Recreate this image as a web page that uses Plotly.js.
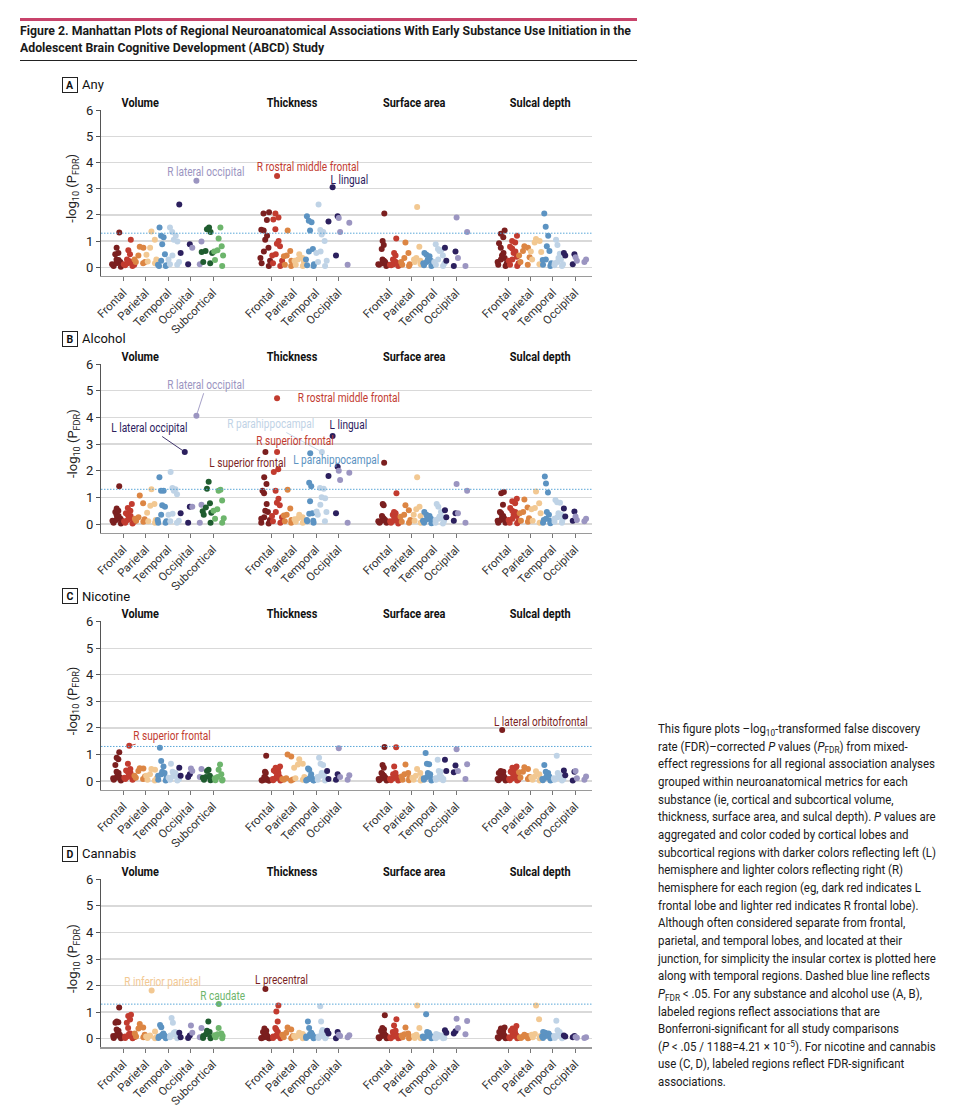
<!DOCTYPE html>
<html>
<head>
<meta charset="utf-8">
<script src="https://cdn.plot.ly/plotly-3.0.1.min.js"></script>
<style>
html,body{margin:0;padding:0;background:#fff;}
#wrap{position:relative;width:957px;height:1116px;overflow:hidden;background:#fff;}
#chart{position:absolute;left:0;top:0;width:957px;height:1116px;}
#topline{position:absolute;left:20px;top:18px;width:617px;height:3px;background:#c8436b;}
#header{position:absolute;left:20px;top:22px;font-family:Roboto,"DejaVu Sans Condensed",sans-serif;font-weight:bold;color:#1a1a1a;line-height:17px;white-space:nowrap;font-size:13.5px;transform-origin:0 0;}
#rule{position:absolute;left:20px;top:60px;width:617px;height:1px;background:#222;}
#caption{position:absolute;left:658px;top:720px;font-family:Roboto,"DejaVu Sans Condensed",sans-serif;color:#1a1a1a;line-height:17.65px;white-space:nowrap;font-size:12.4px;transform-origin:0 0;}
#caption sub,#caption sup{font-size:0.72em;line-height:0;position:relative;vertical-align:baseline;}
#caption sub{top:0.3em;}
#caption sup{top:-0.45em;}
</style>
</head>
<body>
<div id="wrap">
  <div id="chart"></div>
  <div id="topline"></div>
  <div id="header"><span id="h1">Figure 2. Manhattan Plots of Regional Neuroanatomical Associations With Early Substance Use Initiation in the</span><br><span>Adolescent Brain Cognitive Development (ABCD) Study</span></div>
  <div id="rule"></div>
  <div id="caption">This figure plots –log<sub>10</sub>-transformed false discovery<br>rate (FDR)–corrected <i>P</i> values (<i>P</i><sub>FDR</sub>) from mixed-<br><span id="c3">effect regressions for all regional association analyses</span><br>grouped within neuroanatomical metrics for each<br>substance (ie, cortical and subcortical volume,<br>thickness, surface area, and sulcal depth). <i>P</i> values are<br>aggregated and color coded by cortical lobes and<br>subcortical regions with darker colors reflecting left (L)<br>hemisphere and lighter colors reflecting right (R)<br>hemisphere for each region (eg, dark red indicates L<br>frontal lobe and lighter red indicates R frontal lobe).<br>Although often considered separate from frontal,<br>parietal, and temporal lobes, and located at their<br>junction, for simplicity the insular cortex is plotted here<br>along with temporal regions. Dashed blue line reflects<br><i>P</i><sub>FDR</sub> &lt; .05. For any substance and alcohol use (A, B),<br>labeled regions reflect associations that are<br>Bonferroni-significant for all study comparisons<br>(<i>P</i> &lt; .05 / 1188=4.21 × 10<sup>−5</sup>). For nicotine and cannabis<br>use (C, D), labeled regions reflect FDR-significant<br>associations.</div>
</div>
<script>
// ---------------- DATA ----------------
const PANELS = ['Any', 'Alcohol', 'Nicotine', 'Cannabis'];
const PANEL_TAGS = ['A', 'B', 'C', 'D'];
const METRICS = ['Volume', 'Thickness', 'Surface area', 'Sulcal depth'];
const LOBES = ['Frontal', 'Parietal', 'Temporal', 'Occipital', 'Subcortical'];

// A - Any  (each inner array: one lobe; L = left hemisphere, R = right hemisphere)
const anyVolumeL = [
  [1.33, 0.75, 0.55, 0.5, 0.3, 0.28, 0.25, 0.2, 0.15, 0.12, 0.1, 0.05, 0.02],
  [0.78, 0.75, 0.45, 0.3, 0.2, 0.2, 0.15],
  [1.52, 1.2, 1.15, 0.88, 0.5, 0.25, 0.1, 0.08, 0.05, 0.05],
  [2.4, 0.88, 0.55, 0.12],
  [1.52, 1.45, 1.35, 0.62, 0.58, 0.55, 0.2, 0.15]
];
const anyVolumeR = [
  [1.05, 0.65, 0.5, 0.3, 0.25, 0.22, 0.2, 0.18, 0.15, 0.12, 0.1, 0.08, 0.05],
  [1.37, 1.05, 0.75, 0.48, 0.3, 0.22, 0.15],
  [1.52, 1.35, 1.2, 1.05, 0.98, 0.45, 0.3, 0.2, 0.12, 0.1],
  [0.98, 0.75, 0.12],
  [1.52, 1.1, 0.8, 0.65, 0.6, 0.45, 0.28, 0.05]
];
const anyThicknessL = [
  [2.1, 2.05, 1.8, 1.43, 1.4, 1.2, 1.05, 0.75, 0.6, 0.35, 0.25, 0.15, 0.05],
  [1.4, 0.62, 0.45, 0.42, 0.25, 0.1, 0.05],
  [1.95, 1.78, 1.72, 1.4, 0.7, 0.6, 0.3, 0.12, 0.08, 0.05],
  [1.95, 1.75, 0.45]
];
const anyThicknessR = [
  [2.05, 1.9, 1.82, 1.45, 1.0, 0.9, 0.8, 0.5, 0.45, 0.25, 0.15, 0.05],
  [0.5, 0.35, 0.3, 0.25, 0.2, 0.1, 0.05],
  [2.4, 1.42, 1.35, 1.25, 1.0, 0.6, 0.55, 0.25, 0.2, 0.05],
  [1.88, 1.7, 1.35, 0.1]
];
const anySurfaceL = [
  [2.05, 1.0, 0.85, 0.7, 0.3, 0.25, 0.2, 0.2, 0.15, 0.12, 0.1, 0.1, 0.05],
  [0.95, 0.55, 0.35, 0.2, 0.12, 0.1, 0.05],
  [0.55, 0.48, 0.42, 0.3, 0.25, 0.2, 0.15, 0.1, 0.08, 0.05],
  [0.75, 0.6, 0.25, 0.05]
];
const anySurfaceR = [
  [1.1, 0.55, 0.45, 0.3, 0.25, 0.2, 0.2, 0.15, 0.12, 0.1, 0.1, 0.08, 0.05],
  [2.3, 0.78, 0.35, 0.3, 0.25, 0.2, 0.12],
  [0.88, 0.7, 0.65, 0.62, 0.45, 0.3, 0.2, 0.15, 0.1, 0.05],
  [1.9, 1.35, 0.35, 0.05]
];
const anySulcalL = [
  [1.4, 1.28, 1.15, 0.92, 0.75, 0.55, 0.45, 0.35, 0.3, 0.2, 0.15, 0.1, 0.05],
  [0.8, 0.75, 0.62, 0.45, 0.38, 0.2, 0.1],
  [2.05, 1.55, 1.2, 0.8, 0.62, 0.3, 0.28, 0.15, 0.1, 0.05],
  [0.55, 0.5, 0.45, 0.12]
];
const anySulcalR = [
  [1.2, 1.0, 0.95, 0.78, 0.72, 0.6, 0.55, 0.4, 0.3, 0.25, 0.15, 0.1, 0.05],
  [1.08, 1.0, 0.95, 0.6, 0.58, 0.3, 0.12],
  [1.05, 0.85, 0.52, 0.35, 0.3, 0.2, 0.15, 0.12, 0.08, 0.05],
  [0.38, 0.3, 0.25, 0.2]
];

// B - Alcohol
const alcVolumeL = [
  [1.42, 0.58, 0.5, 0.45, 0.35, 0.3, 0.25, 0.2, 0.15, 0.12, 0.1, 0.05, 0.02],
  [1.07, 0.78, 0.25, 0.2, 0.18, 0.12, 0.08],
  [1.75, 1.25, 1.25, 0.7, 0.65, 0.35, 0.15, 0.1, 0.05, 0.05],
  [0.65, 0.4, 0.05],
  [1.58, 1.32, 0.78, 0.62, 0.48, 0.42, 0.35, 0.05]
];
const alcVolumeR = [
  [0.75, 0.6, 0.5, 0.4, 0.35, 0.3, 0.25, 0.2, 0.15, 0.1, 0.08, 0.05, 0.02],
  [1.3, 0.75, 0.68, 0.42, 0.15, 0.1, 0.05],
  [1.95, 1.35, 1.3, 1.25, 1.12, 0.38, 0.35, 0.12, 0.1, 0.05],
  [0.72, 0.65, 0.05],
  [1.28, 1.25, 0.88, 0.55, 0.5, 0.22, 0.2, 0.05]
];
const alcThicknessL = [
  [1.75, 1.5, 1.25, 1.15, 0.75, 0.5, 0.45, 0.25, 0.2, 0.15, 0.05, 0.02],
  [1.28, 0.58, 0.35, 0.32, 0.15, 0.1, 0.05],
  [1.55, 1.42, 0.85, 0.4, 0.38, 0.15, 0.12, 0.1, 0.05],
  [2.15, 1.8, 0.4]
];
const alcThicknessR = [
  [2.05, 1.95, 1.25, 0.95, 0.8, 0.7, 0.45, 0.3, 0.25, 0.1, 0.05],
  [0.35, 0.25, 0.22, 0.18, 0.12, 0.08, 0.05],
  [1.35, 1.32, 1.0, 0.97, 0.72, 0.47, 0.45, 0.35, 0.1],
  [2.0, 1.92, 1.65, 0.05]
];
const alcSurfaceL = [
  [2.3, 0.75, 0.7, 0.3, 0.25, 0.2, 0.2, 0.15, 0.12, 0.1, 0.08, 0.05, 0.05],
  [0.7, 0.52, 0.35, 0.27, 0.15, 0.08, 0.05],
  [0.45, 0.35, 0.3, 0.25, 0.2, 0.17, 0.12, 0.08, 0.05, 0.03],
  [0.52, 0.4, 0.25, 0.12]
];
const alcSurfaceR = [
  [1.15, 0.45, 0.4, 0.35, 0.3, 0.25, 0.2, 0.15, 0.12, 0.1, 0.08, 0.05, 0.02],
  [1.75, 0.65, 0.55, 0.35, 0.3, 0.12, 0.05],
  [0.75, 0.65, 0.45, 0.28, 0.25, 0.2, 0.15, 0.1, 0.05, 0.02],
  [1.5, 1.25, 0.4, 0.05]
];
const alcSulcalL = [
  [1.2, 1.15, 0.72, 0.45, 0.4, 0.3, 0.25, 0.2, 0.15, 0.12, 0.1, 0.05, 0.05],
  [0.92, 0.62, 0.45, 0.4, 0.22, 0.12, 0.08],
  [1.78, 1.52, 1.18, 0.45, 0.35, 0.2, 0.15, 0.12, 0.05, 0.03],
  [0.58, 0.47, 0.28, 0.12]
];
const alcSulcalR = [
  [0.95, 0.85, 0.78, 0.6, 0.5, 0.45, 0.35, 0.3, 0.2, 0.15, 0.1, 0.05, 0.03],
  [1.22, 0.78, 0.6, 0.55, 0.4, 0.12, 0.05],
  [0.9, 0.82, 0.8, 0.4, 0.35, 0.25, 0.2, 0.15, 0.08, 0.05],
  [0.28, 0.2, 0.15, 0.1]
];

// C - Nicotine
const nicVolumeL = [
  [1.08, 0.88, 0.82, 0.6, 0.35, 0.3, 0.2, 0.15, 0.12, 0.1, 0.08, 0.05, 0.02],
  [0.48, 0.47, 0.38, 0.2, 0.17, 0.12, 0.08],
  [1.25, 0.75, 0.55, 0.35, 0.3, 0.25, 0.2, 0.12, 0.05, 0.02],
  [0.5, 0.25, 0.2, 0.15],
  [0.42, 0.38, 0.2, 0.15, 0.12, 0.1, 0.05, 0.03]
];
const nicVolumeR = [
  [0.65, 0.45, 0.4, 0.35, 0.3, 0.25, 0.2, 0.15, 0.12, 0.1, 0.08, 0.05],
  [0.45, 0.42, 0.25, 0.2, 0.1, 0.05, 0.02],
  [0.65, 0.35, 0.3, 0.28, 0.22, 0.17, 0.12, 0.08, 0.05, 0.02],
  [0.47, 0.45, 0.38, 0.15],
  [0.62, 0.42, 0.25, 0.15, 0.1, 0.05, 0.03, 0.02]
];
const nicThicknessL = [
  [0.95, 0.35, 0.3, 0.15, 0.12, 0.1, 0.08, 0.05, 0.05, 0.03, 0.02, 0.02, 0.02],
  [1.0, 0.92, 0.1, 0.08, 0.06, 0.05, 0.02],
  [0.47, 0.42, 0.25, 0.12, 0.1, 0.08, 0.05, 0.03, 0.02, 0.02],
  [0.38, 0.25, 0.08, 0.05]
];
const nicThicknessR = [
  [0.55, 0.5, 0.45, 0.4, 0.35, 0.3, 0.2, 0.15, 0.1, 0.08, 0.05, 0.03, 0.02],
  [0.82, 0.65, 0.62, 0.5, 0.15, 0.1, 0.05],
  [0.88, 0.65, 0.6, 0.3, 0.28, 0.2, 0.15, 0.1, 0.05, 0.02],
  [1.23, 0.22, 0.15, 0.05]
];
const nicSurfaceL = [
  [1.28, 0.6, 0.5, 0.3, 0.25, 0.2, 0.15, 0.12, 0.1, 0.08, 0.05, 0.03, 0.02],
  [0.62, 0.3, 0.25, 0.17, 0.1, 0.05, 0.03],
  [1.05, 0.65, 0.63, 0.3, 0.25, 0.15, 0.1, 0.08, 0.05, 0.02],
  [0.8, 0.58, 0.38, 0.33]
];
const nicSurfaceR = [
  [1.27, 0.55, 0.3, 0.25, 0.22, 0.2, 0.15, 0.12, 0.1, 0.08, 0.05, 0.03, 0.02],
  [0.45, 0.3, 0.2, 0.12, 0.1, 0.05, 0.02],
  [0.8, 0.38, 0.35, 0.2, 0.15, 0.12, 0.1, 0.08, 0.05, 0.03],
  [1.2, 0.63, 0.38, 0.08]
];
const nicSulcalL = [
  [0.38, 0.35, 0.3, 0.25, 0.2, 0.17, 0.12, 0.1, 0.08, 0.05, 0.03, 0.02],
  [0.52, 0.45, 0.35, 0.33, 0.15, 0.13, 0.08],
  [0.6, 0.35, 0.3, 0.2, 0.17, 0.12, 0.08, 0.05, 0.03, 0.02],
  [0.4, 0.35, 0.22, 0.02]
];
const nicSulcalR = [
  [0.55, 0.5, 0.45, 0.35, 0.3, 0.25, 0.2, 0.15, 0.1, 0.08, 0.05, 0.03, 0.02],
  [0.37, 0.25, 0.17, 0.12, 0.1, 0.05, 0.02],
  [0.95, 0.3, 0.22, 0.18, 0.15, 0.12, 0.1, 0.08, 0.05, 0.02],
  [0.38, 0.17, 0.1, 0.05]
];

// D - Cannabis
const canVolumeL = [
  [1.17, 0.65, 0.62, 0.6, 0.35, 0.3, 0.2, 0.15, 0.12, 0.1, 0.05, 0.03, 0.02],
  [0.55, 0.42, 0.38, 0.2, 0.15, 0.08, 0.05],
  [0.52, 0.43, 0.2, 0.15, 0.12, 0.1, 0.08, 0.05, 0.03, 0.02],
  [0.22, 0.12, 0.05, 0.03],
  [0.65, 0.3, 0.25, 0.17, 0.1, 0.05, 0.03, 0.02]
];
const canVolumeR = [
  [0.9, 0.85, 0.72, 0.6, 0.4, 0.2, 0.18, 0.15, 0.1, 0.08, 0.05, 0.03, 0.02],
  [0.27, 0.12, 0.08, 0.05, 0.03, 0.02],
  [0.78, 0.6, 0.25, 0.22, 0.2, 0.15, 0.12, 0.08, 0.05, 0.02],
  [0.5, 0.4, 0.22, 0.05],
  [0.4, 0.2, 0.17, 0.13, 0.1, 0.05, 0.02]
];
const canThicknessL = [
  [0.38, 0.3, 0.25, 0.2, 0.15, 0.1, 0.08, 0.05, 0.03, 0.02, 0.02, 0.02],
  [0.42, 0.35, 0.22, 0.15, 0.1, 0.05, 0.02],
  [0.65, 0.4, 0.22, 0.18, 0.15, 0.1, 0.08, 0.05, 0.03, 0.02],
  [0.3, 0.25, 0.2, 0.02]
];
const canThicknessR = [
  [1.25, 1.02, 0.65, 0.4, 0.35, 0.25, 0.15, 0.12, 0.1, 0.08, 0.05, 0.03, 0.02],
  [0.22, 0.18, 0.12, 0.1, 0.08, 0.05, 0.02],
  [1.22, 0.65, 0.33, 0.25, 0.15, 0.12, 0.08, 0.05, 0.03, 0.02],
  [0.15, 0.13, 0.1, 0.05]
];
const canSurfaceL = [
  [0.88, 0.4, 0.35, 0.3, 0.25, 0.2, 0.15, 0.12, 0.1, 0.05, 0.03, 0.02, 0.02],
  [0.42, 0.2, 0.17, 0.12, 0.08, 0.05, 0.02],
  [0.92, 0.25, 0.22, 0.18, 0.15, 0.1, 0.08, 0.05, 0.03, 0.02],
  [0.32, 0.28, 0.22, 0.2]
];
const canSurfaceR = [
  [0.73, 0.5, 0.3, 0.25, 0.2, 0.15, 0.12, 0.1, 0.08, 0.05, 0.03, 0.02, 0.02],
  [1.25, 0.4, 0.15, 0.1, 0.05, 0.03, 0.02],
  [0.18, 0.15, 0.12, 0.1, 0.08, 0.07, 0.05, 0.03, 0.02, 0.02],
  [0.75, 0.67, 0.4, 0.17]
];
const canSulcalL = [
  [0.42, 0.38, 0.3, 0.25, 0.22, 0.18, 0.15, 0.1, 0.08, 0.05, 0.03, 0.02, 0.02],
  [0.15, 0.1, 0.08, 0.05, 0.04, 0.03, 0.02],
  [0.25, 0.22, 0.2, 0.15, 0.12, 0.1, 0.08, 0.05, 0.03, 0.02],
  [0.12, 0.1, 0.08, 0.05]
];
const canSulcalR = [
  [0.48, 0.38, 0.35, 0.3, 0.25, 0.22, 0.15, 0.12, 0.1, 0.05, 0.03, 0.02, 0.02],
  [1.25, 0.73, 0.18, 0.15, 0.1, 0.05, 0.02],
  [0.68, 0.32, 0.25, 0.2, 0.15, 0.12, 0.1, 0.05, 0.03, 0.02],
  [0.06, 0.05, 0.04, 0.03]
];

// Labeled (significant) regions
const hlLabels = ['R lateral occipital', 'R rostral middle frontal', 'L lingual',
  'R lateral occipital', 'L lateral occipital', 'R rostral middle frontal', 'R parahippocampal', 'L lingual',
  'R superior frontal', 'L superior frontal', 'L parahippocampal',
  'R superior frontal', 'L lateral orbitofrontal',
  'R inferior parietal', 'R caudate', 'L precentral'];
const hlValues = [3.3, 3.48, 3.05, 4.06, 2.7, 4.72, 2.7, 3.3, 2.7, 2.7, 2.65, 1.33, 1.92, 1.81, 1.31, 1.87];
const hlPanel  = [0, 0, 0, 1, 1, 1, 1, 1, 1, 1, 1, 2, 2, 3, 3, 3];
const hlMetric = [0, 1, 1, 0, 0, 1, 1, 1, 1, 1, 1, 0, 3, 0, 0, 1];
const hlLobe   = [3, 0, 3, 3, 3, 0, 2, 3, 0, 0, 2, 0, 0, 1, 4, 0];
const hlHemi   = ['R', 'R', 'L', 'R', 'L', 'R', 'R', 'L', 'R', 'L', 'L', 'R', 'L', 'R', 'R', 'L'];

const FDR_THRESHOLD = 1.301; // -log10(0.05)

// ---------------- STYLE / LAYOUT ----------------
const COLORS = {
  Frontal:     ['#7b1f1f', '#c23b2f'],
  Parietal:    ['#dc8543', '#f2c892'],
  Temporal:    ['#5c93c2', '#bfd3e6'],
  Occipital:   ['#2c205e', '#9b95c1'],
  Subcortical: ['#1f5c2f', '#6db56c']
};
const FONT = 'Roboto, "DejaVu Sans Condensed", sans-serif';
const W = 957, H = 1116;
const PX_UNIT = 22.4;           // px per category step
const X_LEFT = 101, X_RIGHT = 592;
const GROUP_START = [1, 7.6, 12.86, 18.17];
const TITLE_X = [140, 292, 414, 540];
const HEMI_OFF = 0.26, BOX_W = 0.58;
const Y6 = [110, 364, 621.7, 879.3];
const Y0 = [267.3, 524, 781, 1038.7];
const CONDENSE = 0.84;          // horizontal condensing of titles and region labels

// label placement: dx, dy (px, from point), leader line, anchor
const labelPlace = [
  [10, -9, false, 'center'], [31, -9, false, 'center'], [17, -7, false, 'center'],
  [10, -31, true, 'center'], [-35, -24, true, 'center'], [9, 0, false, 'left'], [-51, -28, true, 'center'], [16, -11, false, 'center'],
  [18, -11, false, 'center'], [-18, 11, false, 'center'], [26, 7, false, 'center'],
  [43, -10, true, 'center'], [39, -8, false, 'center'],
  [11, -9, false, 'center'], [4, -8, false, 'center'], [16, -9, false, 'center']
];

const panelSets = [
  [[anyVolumeL, anyVolumeR], [anyThicknessL, anyThicknessR], [anySurfaceL, anySurfaceR], [anySulcalL, anySulcalR]],
  [[alcVolumeL, alcVolumeR], [alcThicknessL, alcThicknessR], [alcSurfaceL, alcSurfaceR], [alcSulcalL, alcSulcalR]],
  [[nicVolumeL, nicVolumeR], [nicThicknessL, nicThicknessR], [nicSurfaceL, nicSurfaceR], [nicSulcalL, nicSulcalR]],
  [[canVolumeL, canVolumeR], [canThicknessL, canThicknessR], [canSurfaceL, canSurfaceR], [canSulcalL, canSulcalR]]
];

const AXS = ['', '2', '3', '4'];
const traces = [];
const condensedIdx = [];
const layout = {
  width: W, height: H,
  margin: {l: 0, r: 0, t: 0, b: 0},
  paper_bgcolor: 'rgba(0,0,0,0)', plot_bgcolor: 'rgba(0,0,0,0)',
  showlegend: false,
  boxmode: 'overlay', boxgap: 0, boxgroupgap: 0,
  font: {family: FONT, color: '#222'},
  annotations: [], shapes: []
};

const px2x = px => px / W;
const px2y = py => 1 - py / H;

panelSets.forEach((metrics, p) => {
  const ax = AXS[p];
  const unit = (Y0[p] - Y6[p]) / 6;
  const topPx = Y6[p] - 0.5, botPx = Y0[p] + 8.5;
  const yr = [-(botPx - Y0[p]) / unit, 6 + (Y6[p] - topPx) / unit];
  const tickvals = [], ticktext = [];
  metrics.forEach((pair, m) => {
    const nLobes = pair[0].length;
    for (let k = 0; k < nLobes; k++) {
      tickvals.push(GROUP_START[m] + k);
      ticktext.push(LOBES[k]);
      for (let h = 0; h < 2; h++) {
        traces.push({
          type: 'box', orientation: 'v',
          x0: GROUP_START[m] + k + (h ? HEMI_OFF : -HEMI_OFF),
          y: pair[h][k],
          xaxis: 'x' + ax, yaxis: 'y' + ax,
          width: BOX_W,
          boxpoints: 'all', jitter: 1, pointpos: 0,
          marker: {color: COLORS[LOBES[k]][h], size: 6, opacity: 1, line: {width: 0}},
          line: {width: 0, color: 'rgba(0,0,0,0)'},
          fillcolor: 'rgba(0,0,0,0)',
          hoveron: 'points', showlegend: false
        });
      }
    }
  });
  layout['xaxis' + ax] = {
    domain: [px2x(X_LEFT), px2x(X_RIGHT)],
    anchor: 'y' + ax,
    range: [0, (X_RIGHT - X_LEFT) / PX_UNIT],
    tickmode: 'array', tickvals: tickvals, ticktext: ticktext,
    tickangle: -45, ticks: 'outside', ticklen: 4, tickcolor: '#777', tickwidth: 1,
    tickfont: {family: FONT, size: 11.5, color: '#333'},
    showline: true, linecolor: '#9a9a9a', linewidth: 1.6,
    showgrid: false, zeroline: false, fixedrange: true
  };
  layout['yaxis' + ax] = {
    domain: [px2y(botPx), px2y(topPx)],
    anchor: 'x' + ax,
    range: yr,
    tickmode: 'array', tickvals: [0, 1, 2, 3, 4, 5, 6],
    ticks: 'outside', ticklen: 4, tickcolor: '#555', tickwidth: 1,
    tickfont: {family: FONT, size: 13, color: '#222'},
    showline: true, linecolor: '#555', linewidth: 1,
    showgrid: true, gridcolor: '#d9d9d9', gridwidth: 1.3,
    zeroline: false, fixedrange: true
  };
  // FDR threshold line
  layout.shapes.push({
    type: 'line', xref: 'x' + ax + ' domain', yref: 'y' + ax,
    x0: 0, x1: 1, y0: FDR_THRESHOLD, y1: FDR_THRESHOLD,
    line: {color: '#5aa7d8', width: 1, dash: '1.5px,1.5px'}
  });
  // Panel tag box and name
  const tagY = Y6[p] - 25.5;
  layout.annotations.push({
    xref: 'paper', yref: 'paper', x: px2x(69.5), y: px2y(tagY),
    text: '<b>' + PANEL_TAGS[p] + '</b>', showarrow: false,
    font: {family: FONT, size: 10.5, color: '#111'},
    bordercolor: '#222', borderwidth: 1, borderpad: 1.5, width: 11, height: 11,
    xanchor: 'center', yanchor: 'middle'
  });
  layout.annotations.push({
    xref: 'paper', yref: 'paper', x: px2x(80), y: px2y(tagY),
    text: PANELS[p], showarrow: false, xanchor: 'left', yanchor: 'middle',
    font: {family: FONT, size: 13, color: '#111'}
  });
  // Metric titles
  METRICS.forEach((mt, m) => {
    condensedIdx.push(layout.annotations.length);
    layout.annotations.push({
      xref: 'paper', yref: 'paper', x: px2x(TITLE_X[m]), y: px2y(Y6[p] - 8),
      text: '<b>' + mt + '</b>', showarrow: false, xanchor: 'center', yanchor: 'middle',
      font: {family: FONT, size: 13, color: '#111'}
    });
  });
  // Y title
  layout.annotations.push({
    xref: 'paper', yref: 'y' + ax, x: px2x(73), y: 3,
    text: '-log<sub>10</sub> (P<sub>FDR</sub>)', showarrow: false, textangle: -90,
    xanchor: 'center', yanchor: 'middle',
    font: {family: FONT, size: 13, color: '#222'}
  });
});

// highlighted points + labels
hlValues.forEach((v, i) => {
  const p = hlPanel[i], m = hlMetric[i], k = hlLobe[i];
  const h = hlHemi[i] === 'R' ? 1 : 0;
  const ax = AXS[p];
  const x = GROUP_START[m] + k + (h ? HEMI_OFF : -HEMI_OFF);
  const col = COLORS[LOBES[k]][h];
  traces.push({
    type: 'scatter', mode: 'markers', x: [x], y: [v],
    xaxis: 'x' + ax, yaxis: 'y' + ax,
    marker: {color: col, size: 6, line: {width: 0}}, showlegend: false,
    hovertemplate: hlLabels[i] + ': %{y}<extra></extra>'
  });
  const pl = labelPlace[i];
  const ann = {
    xref: 'x' + ax, yref: 'y' + ax, x: x, y: v,
    text: hlLabels[i],
    font: {family: FONT, size: 12, color: col}
  };
  if (pl[2]) {
    Object.assign(ann, {showarrow: true, ax: pl[0], ay: pl[1], arrowhead: 0,
      arrowwidth: 0.9, arrowcolor: col, standoff: 3, xanchor: 'center', yanchor: 'middle'});
  } else {
    Object.assign(ann, {showarrow: false, xshift: pl[0], yshift: -pl[1],
      xanchor: pl[3], yanchor: 'middle'});
  }
  condensedIdx.push(layout.annotations.length);
  layout.annotations.push(ann);
});

function condense(gd) {
  condensedIdx.forEach(i => {
    const t = gd.querySelector('g.annotation[data-index="' + i + '"] text.annotation-text');
    if (!t) return;
    t.removeAttribute('textLength');
    t.removeAttribute('lengthAdjust');
    const len = t.getComputedTextLength();
    if (len > 0) {
      t.setAttribute('lengthAdjust', 'spacingAndGlyphs');
      t.setAttribute('textLength', (len * CONDENSE).toFixed(2));
    }
  });
}

// fit header and caption text widths by horizontal scaling
function fitScale(el, span, target) {
  el.style.transform = 'none';
  const w = span.getBoundingClientRect().width;
  if (w > 0) el.style.transform = 'scaleX(' + (target / w) + ')';
}
function fitAll() {
  fitScale(document.getElementById('header'), document.getElementById('h1'), 611);
  fitScale(document.getElementById('caption'), document.getElementById('c3'), 277);
}

Plotly.newPlot('chart', traces, layout, {staticPlot: true, displayModeBar: false}).then(gd => {
  condense(gd);
  fitAll();
  if (document.fonts && document.fonts.ready) document.fonts.ready.then(() => { condense(gd); fitAll(); });
});
</script>
</body>
</html>
